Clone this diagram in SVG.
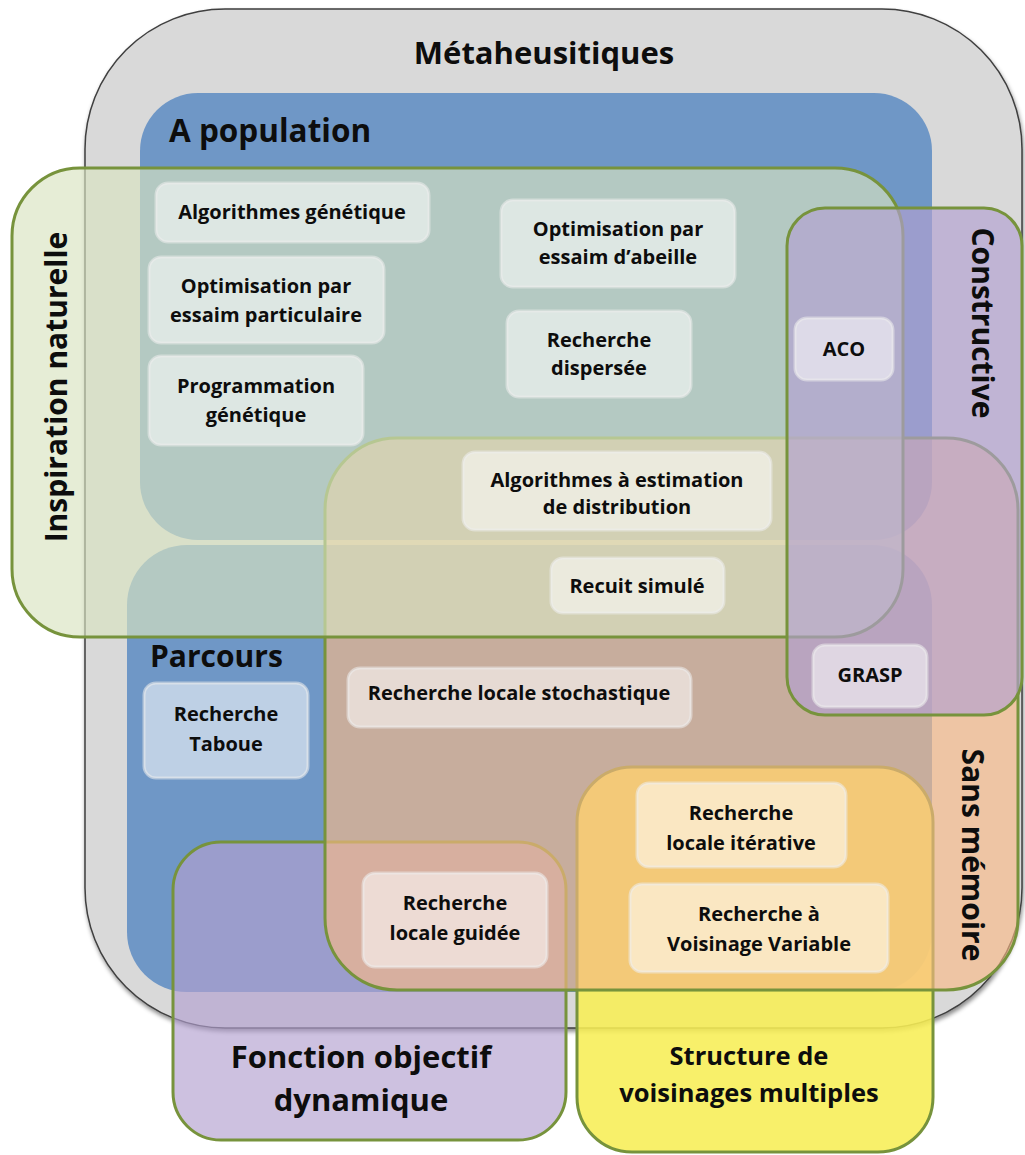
<svg xmlns="http://www.w3.org/2000/svg" width="1025" height="1155" viewBox="0 0 1025 1155">
<defs>
<filter id="sh" x="-5%" y="-5%" width="110%" height="110%">
<feDropShadow dx="1" dy="3" stdDeviation="2" flood-color="#000" flood-opacity="0.45"/>
</filter>
<style>
.t{font-family:"Open Sans","Liberation Sans",sans-serif;font-weight:700;fill:#0d0d0d}
.big{font-size:30px}
.box{font-size:20px;text-anchor:middle}
.nb{fill:#ffffff;fill-opacity:0.55;stroke:#ececec;stroke-opacity:0.55;stroke-width:3}
.gs{stroke:#77933c;stroke-width:3}
</style>
</defs>
<rect width="1025" height="1155" fill="#ffffff"/>

<g id="metaheuristiques">
<rect x="85" y="9" width="937" height="1019" rx="140" ry="140" fill="#d9d9d9" stroke="#3f3f3f" stroke-width="1.5" filter="url(#sh)"/>
<text class="t" x="544" y="64" font-size="31" text-anchor="middle">Métaheusitiques</text>
</g>

<g id="population">
<rect x="140" y="93" width="792" height="447" rx="58" ry="58" fill="#6f97c6"/>
<text class="t" x="169" y="142" font-size="31.5">A population</text>
</g>

<g id="parcours">
<rect x="127" y="545" width="805" height="447" rx="60" ry="60" fill="#6f97c6"/>
</g>

<g id="structure">
<rect x="577" y="767" width="356" height="385" rx="55" ry="55" fill="#f7ee55" fill-opacity="0.88" class="gs"/>
</g>

<g id="fonction">
<rect x="173" y="842" width="393" height="298" rx="48" ry="48" fill="#b2a0cf" fill-opacity="0.65" class="gs"/>
</g>

<g id="sansmemoire">
<rect x="325" y="438" width="693" height="552" rx="72" ry="72" fill="#fbb985" fill-opacity="0.63" class="gs"/>
</g>

<g id="inspiration">
<rect x="12" y="168" width="891" height="469" rx="68" ry="68" fill="#d9e3c0" fill-opacity="0.65" class="gs"/>
</g>

<g id="constructive">
<rect x="787" y="208" width="235" height="507" rx="38" ry="38" fill="#b2a0d1" fill-opacity="0.65" class="gs"/>
</g>

<g id="labels">
<text class="t big" x="150" y="667">Parcours</text>
<text class="t big" transform="translate(67,387) rotate(-90)" text-anchor="middle">Inspiration naturelle</text>
<text class="t big" transform="translate(972,323) rotate(90)" text-anchor="middle">Constructive</text>
<text class="t big" transform="translate(962,855) rotate(90)" text-anchor="middle">Sans mémoire</text>
<text class="t" font-size="31" text-anchor="middle"><tspan x="361" y="1068">Fonction objectif</tspan><tspan x="361" y="1111">dynamique</tspan></text>
<text class="t" font-size="25.5" text-anchor="middle"><tspan x="749" y="1065">Structure de</tspan><tspan x="749" y="1102">voisinages multiples</tspan></text>
</g>

<g id="n-ag">
<rect class="nb" x="156" y="183" width="273" height="59" rx="12"/>
<text class="t box" x="292" y="219">Algorithmes génétique</text>
</g>
<g id="n-opp">
<rect class="nb" x="149" y="257" width="235" height="86" rx="12"/>
<text class="t box"><tspan x="266" y="293">Optimisation par</tspan><tspan x="266" y="322">essaim particulaire</tspan></text>
</g>
<g id="n-pg">
<rect class="nb" x="149" y="356" width="214" height="89" rx="12"/>
<text class="t box"><tspan x="256" y="393">Programmation</tspan><tspan x="256" y="422">génétique</tspan></text>
</g>
<g id="n-opa">
<rect class="nb" x="501" y="200" width="234" height="87" rx="12"/>
<text class="t box"><tspan x="618" y="236">Optimisation par</tspan><tspan x="618" y="264">essaim d’abeille</tspan></text>
</g>
<g id="n-rd">
<rect class="nb" x="507" y="311" width="184" height="86" rx="12"/>
<text class="t box"><tspan x="599" y="347">Recherche</tspan><tspan x="599" y="375">dispersée</tspan></text>
</g>
<g id="n-aco">
<rect class="nb" x="795" y="318" width="98" height="62" rx="12"/>
<text class="t box" x="844" y="356">ACO</text>
</g>
<g id="n-aed">
<rect class="nb" x="463" y="452" width="308" height="78" rx="12"/>
<text class="t box"><tspan x="617" y="487">Algorithmes à estimation</tspan><tspan x="617" y="514">de distribution</tspan></text>
</g>
<g id="n-rs">
<rect class="nb" x="551" y="558" width="173" height="55" rx="12"/>
<text class="t box" x="637" y="593">Recuit simulé</text>
</g>
<g id="n-grasp">
<rect class="nb" x="813" y="645" width="114" height="62" rx="12"/>
<text class="t box" x="870" y="682">GRASP</text>
</g>
<g id="n-rls">
<rect class="nb" x="348" y="668" width="343" height="59" rx="12"/>
<text class="t box" x="519" y="700">Recherche locale stochastique</text>
</g>
<g id="n-rt">
<rect class="nb" x="144" y="683" width="164" height="95" rx="12"/>
<text class="t box"><tspan x="226" y="721">Recherche</tspan><tspan x="226" y="751">Taboue</tspan></text>
</g>
<g id="n-rlg">
<rect class="nb" x="363" y="873" width="184" height="94" rx="12"/>
<text class="t box"><tspan x="455" y="910">Recherche</tspan><tspan x="455" y="940">locale guidée</tspan></text>
</g>
<g id="n-rli">
<rect class="nb" x="637" y="783" width="209" height="84" rx="12"/>
<text class="t box"><tspan x="741" y="820">Recherche</tspan><tspan x="741" y="850">locale itérative</tspan></text>
</g>
<g id="n-rvv">
<rect class="nb" x="630" y="884" width="258" height="88" rx="12"/>
<text class="t box"><tspan x="759" y="921">Recherche à</tspan><tspan x="759" y="951">Voisinage Variable</tspan></text>
</g>

<g id="connectors"></g>
</svg>
